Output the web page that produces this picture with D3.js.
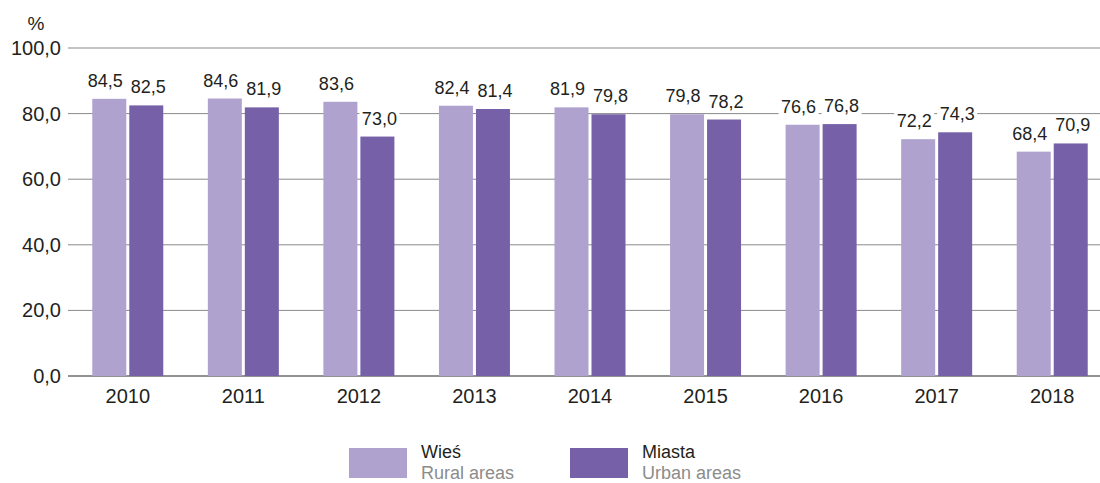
<!DOCTYPE html>
<meta charset="utf-8">
<script src="https://d3js.org/d3.v7.min.js"></script>
<style>
  body { margin: 0; background: #fff; }
  text { font-family: "Liberation Sans", Arial, sans-serif; fill: #231f20; }
</style>
<div id="my_dataviz"></div>
<script>
// data
var years = ["2010", "2011", "2012", "2013", "2014", "2015", "2016", "2017", "2018"];
var rural = [84.5, 84.6, 83.6, 82.4, 81.9, 79.8, 76.6, 72.2, 68.4];
var urban = [82.5, 81.9, 73.0, 81.4, 79.8, 78.2, 76.8, 74.3, 70.9];
var yTicks = [0, 20, 40, 60, 80, 100];
var seriesNames = [["Wieś", "Rural areas"], ["Miasta", "Urban areas"]];
var colors = ["#afa2cf", "#7660a8"];

var W = 1100, H = 483;
var svg = d3.select("#my_dataviz").append("svg")
  .attr("width", W).attr("height", H);

var x = d3.scaleBand().domain(years).range([70, 1110]).padding(0);
var y = d3.scaleLinear().domain([0, 100]).range([376, 48]);

var fmt = function(v) { return v.toFixed(1).replace(".", ","); };

// grid lines
svg.append("g").selectAll("line")
  .data(yTicks).enter().append("line")
    .attr("x1", 68).attr("x2", 1100)
    .attr("y1", function(d) { return y(d); })
    .attr("y2", function(d) { return y(d); })
    .attr("stroke", function(d) { return d === 0 ? "#6d6e71" : "#8a8a8a"; })
    .attr("stroke-width", function(d) { return d === 0 ? 1.5 : 1; });

// y tick labels
svg.append("g").selectAll("text")
  .data(yTicks).enter().append("text")
    .attr("x", 61)
    .attr("y", function(d) { return y(d) + 7; })
    .attr("text-anchor", "end")
    .style("font-size", "20px")
    .text(fmt);

svg.append("text").attr("x", 36).attr("y", 30)
  .attr("text-anchor", "middle").style("font-size", "19px").text("%");

// bars
var barW = 34, gap = 3;
var series = [rural, urban];
series.forEach(function(vals, s) {
  var g = svg.append("g");
  var off = s === 0 ? -(barW + gap / 2) : gap / 2;
  g.selectAll("rect").data(years).enter().append("rect")
    .attr("x", function(d) { return x(d) + x.bandwidth() / 2 + off; })
    .attr("y", function(d, i) { return y(vals[i]); })
    .attr("width", barW)
    .attr("height", function(d, i) { return y(0) - y(vals[i]); })
    .attr("fill", colors[s]);
});

// value labels with white background, nudged apart a little
series.forEach(function(vals, s) {
  var off = s === 0 ? -(barW / 2 + gap / 2) - 4 : (barW / 2 + gap / 2) + 2;
  var lg = svg.append("g").selectAll("g").data(years).enter().append("g")
    .attr("transform", function(d, i) {
      return "translate(" + (x(d) + x.bandwidth() / 2 + off) + "," + (y(vals[i]) - 12) + ")";
    });
  lg.append("rect").attr("x", -20).attr("y", -16).attr("width", 40).attr("height", 20)
    .attr("fill", "#fff");
  lg.append("text").attr("text-anchor", "middle").style("font-size", "18px")
    .text(function(d, i) { return fmt(vals[i]); });
});

// x labels
svg.append("g").selectAll("text")
  .data(years).enter().append("text")
    .attr("x", function(d) { return x(d) + x.bandwidth() / 2; })
    .attr("y", 403)
    .attr("text-anchor", "middle")
    .style("font-size", "20px")
    .text(function(d) { return d; });

// legend
var legX = [349, 570];
seriesNames.forEach(function(n, i) {
  var g = svg.append("g").attr("transform", "translate(" + legX[i] + ",448)");
  g.append("rect").attr("width", 58).attr("height", 30).attr("fill", colors[i]);
  g.append("text").attr("x", 72).attr("y", 10).style("font-size", "18px").text(n[0]);
  g.append("text").attr("x", 72).attr("y", 31).style("font-size", "18px")
    .style("fill", "#8c8c8c").text(n[1]);
});
</script>
